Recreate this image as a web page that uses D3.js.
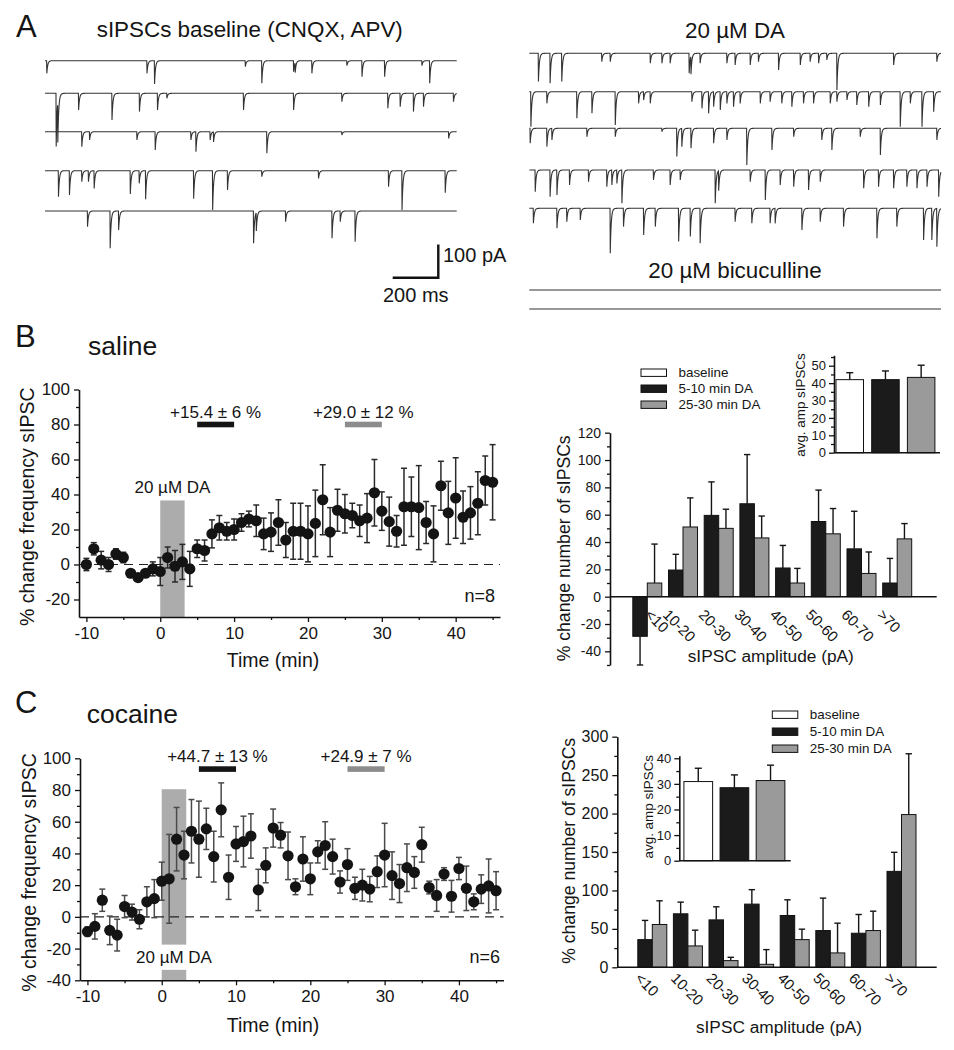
<!DOCTYPE html>
<html><head><meta charset="utf-8">
<script src="https://cdn.jsdelivr.net/npm/d3@7"></script>
<style>
body{margin:0;background:#fff}
text{font-family:"Liberation Sans",Arial,sans-serif;fill:#151515}
</style>
</head><body>
<svg id="c" width="954" height="1050" xmlns="http://www.w3.org/2000/svg"></svg>
<script>
// ---------------- DATA ----------------
// Panel A: sIPSC events [time (ms), amplitude (pA)] per sweep (1.8 s sweeps)
const baseTrace1 = [[7,38],[445,38],[478,70],[875,18],[947,68],[1086,33],[1093,30],[1166,38],[1319,15],[1385,48],[1484,48],[1647,15],[1681,68]];
const baseTrace2 = [[48,160],[55,120],[146,50],[292,80],[412,55],[491,50],[532,15],[867,50],[1086,50],[1297,25],[1498,45],[1552,40],[1610,55],[1654,40],[1785,25]];
const baseTrace3 = [[160,45],[194,25],[401,25],[481,55],[637,25],[659,60],[721,25],[736,30],[969,65],[1297,10],[1764,20]];
const baseTrace4 = [[58,78],[106,73],[160,33],[189,33],[214,53],[372,70],[411,38],[439,86],[649,84],[732,118],[797,58],[947,18],[1195,23],[1501,48],[1560,118],[1749,66]];
const baseTrace5 = [[185,47],[284,112],[321,57],[911,97],[923,55],[1051,32],[1254,82],[1290,32],[1355,92]];
const daTrace1 = [[39,85],[90,90],[141,85],[316,25],[353,25],[528,30],[579,30],[615,30],[698,60],[706,55],[746,30],[863,30],[899,35],[965,35],[1001,25],[1089,50],[1184,35],[1227,25],[1264,30],[1300,20],[1344,110],[1592,35],[1781,25]];
const daTrace2 = [[6,105],[76,35],[207,80],[273,65],[375,100],[477,35],[499,25],[528,35],[710,30],[754,50],[783,65],[805,45],[834,55],[863,35],[892,45],[921,35],[1009,35],[1052,30],[1103,35],[1147,45],[1198,35],[1242,35],[1315,35],[1344,30],[1388,25],[1431,40],[1483,45],[1534,40],[1621,105],[1665,35],[1716,105],[1767,60]];
const daTrace3 = [[3,45],[76,55],[98,35],[251,25],[375,25],[579,10],[644,85],[666,55],[706,60],[805,45],[863,35],[950,110],[1060,65],[1155,25],[1278,35],[1322,65],[1446,25],[1534,80],[1781,35]];
const daTrace4 = [[25,65],[90,80],[120,75],[175,45],[258,35],[338,50],[360,45],[382,40],[404,100],[542,30],[615,45],[659,30],[812,100],[827,60],[965,35],[1031,90],[1096,45],[1155,50],[1220,60],[1271,35],[1461,55],[1526,50],[1592,55],[1650,50],[1694,55],[1738,50],[1789,80]];
const daTrace5 = [[17,45],[120,60],[163,40],[222,35],[353,135],[411,55],[499,80],[550,55],[652,100],[703,85],[746,105],[899,40],[972,45],[1052,45],[1074,45],[1191,65],[1271,40],[1373,55],[1519,90],[1606,55],[1723,95],[1759,95],[1781,115]];
const bicTrace1 = [];
const bicTrace2 = [];

// Panels B/C left: time course (% change frequency sIPSC)
const timeMin = [-10,-9,-8,-7,-6,-5,-4,-3,-2,-1,0,1,2,3,4,5,6,7,8,9,10,11,12,13,14,15,16,17,18,19,20,21,22,23,24,25,26,27,28,29,30,31,32,33,34,35,36,37,38,39,40,41,42,43,44,45];
const salineFreq = [0,9,2.5,0,6,4,-5,-7.5,-5,-2.5,-4,4,-1,1.5,-2.5,9,8,17.5,21,19,20,24,26,25,17.5,18.5,24,14,19,19,17.5,23.5,37,18.5,31,29,28,25,26.5,41,30.5,24.5,19,33,33,32.5,24,17.5,45,29.5,38,27,29.5,35,48,47];
const salineErr  = [3.5,3.5,5,4,3,3,1.5,2,2,4,8,6,9,10,10,5,6,8,7,5,6,5,4.5,9,9,11,13,10,16,16,16,19,20,14,12,11,7,9,14,19,11,14,9,22,17,24,12,16,14,18,23,15,15,18,14,21.5];
const cocaineFreq = [-9.3,-6,10.5,-8.5,-11.5,6.5,3,-1.5,9.5,11.5,22.5,24,49,39,54,49,55.5,38,67.5,25,46,47.5,51,17,32.5,56,51.5,38.5,19,36.5,24,41,45,38,22,33,18,20,17.5,28.5,39,26,21,31,28,45.5,18.5,13.5,27,13,30.5,18,9.5,17.5,19.5,16.5];
const cocaineErr  = [3,8,7,9,10,7,5,6,9.5,12,12,28,20,15,20,24,13,16,17,14,11,16,14,13,11,12,8,15,5,14,10,7,15,11,7,10,7,10,8,10,20,15,12,15,10,11,4,10,4,10,7,14,5,9,17,12];
const daPeriod = [0, 3.3];
const measurePeriods = [[5,10],[25,30]];
const salinePeriodLabels = ["+15.4 \u00b1 6 %", "+29.0 \u00b1 12 %"];
const cocainePeriodLabels = ["+44.7 \u00b1 13 %", "+24.9 \u00b1 7 %"];

// Panels B/C right: amplitude distribution
const ampBins = ["<10","10-20","20-30","30-40","40-50","50-60","60-70",">70"];
const seriesNames = ["baseline","5-10 min DA","25-30 min DA"];
const salineEarly    = [-29,19.5,59.5,68,21,55,35,10];
const salineEarlyErr = [21,11.5,24.5,36,16.5,23,27.5,18];
const salineLate     = [10,51,50,43,10,46,17,42.3];
const salineLateErr  = [28.5,21.3,14,16,10.7,18.5,15.7,11.2];
const cocaineEarly    = [36,69.6,61.7,82.2,67.4,47.8,44.3,124.8];
const cocaineEarlyErr = [25,15.2,17,18.8,20.4,42.2,24.4,24.8];
const cocaineLate     = [55.7,27.8,8.7,3.9,36,18.7,47.8,198.7];
const cocaineLateErr  = [30.8,20.5,4.3,19.1,13.6,38.7,25.2,79.1];
// insets: average amplitude
const salineAvgAmp = [42,42,43.3];
const salineAvgErr = [4,5,7];
const cocaineAvgAmp = [30.9,28.5,31.3];
const cocaineAvgErr = [5.2,5,6];

// ---------------- DRAWING ----------------
const svg = d3.select("#c");
svg.append("rect").attr("width",954).attr("height",1050).attr("fill","#fff");
const seriesFill = ["#ffffff","#1b1b1b","#9a9a9a"];

function txt(x,y,s,size,anchor="start",g=svg){
  return g.append("text").attr("x",x).attr("y",y).attr("font-size",size)
    .attr("text-anchor",anchor).text(s);
}
function vtxt(x,y,s,size){
  return svg.append("text").attr("transform",`translate(${x},${y}) rotate(-90)`)
    .attr("font-size",size).attr("text-anchor","middle").text(s);
}
function styleAxis(g,fs){
  g.selectAll("path.domain").attr("stroke","#111").attr("stroke-width",1.6);
  g.selectAll(".tick line").attr("stroke","#111").attr("stroke-width",1.3);
  g.selectAll(".tick text").attr("font-size",fs).attr("fill","#151515")
    .attr("font-family","'Liberation Sans',Arial,sans-serif");
  g.attr("font-family",null);
}
function leftAxis(x,scale,majors,minors,fs,pad){
  const g = svg.append("g").attr("transform",`translate(${x},0)`)
    .call(d3.axisLeft(scale).tickValues(majors).tickSize(5).tickSizeOuter(0).tickPadding(pad).tickFormat(d=>String(d)));
  styleAxis(g,fs);
  const m = svg.append("g").attr("transform",`translate(${x},0)`)
    .call(d3.axisLeft(scale).tickValues(minors).tickSize(3).tickFormat(""));
  m.select("path.domain").remove();
  styleAxis(m,fs);
}
function bottomAxis(y,scale,majors,minors,fs,pad){
  const g = svg.append("g").attr("transform",`translate(0,${y})`)
    .call(d3.axisBottom(scale).tickValues(majors).tickSize(5).tickSizeOuter(0).tickPadding(pad).tickFormat(d=>String(d)));
  styleAxis(g,fs);
  const m = svg.append("g").attr("transform",`translate(0,${y})`)
    .call(d3.axisBottom(scale).tickValues(minors).tickSize(3).tickFormat(""));
  m.select("path.domain").remove();
  styleAxis(m,fs);
}

// ---- Panel A traces ----
function drawTrace(events, x0, yBase){
  const xs = d3.scaleLinear().domain([0,1800]).range([x0, x0+411.7]);
  const ys = d3.scaleLinear().domain([0,100]).range([yBase, yBase+33.3]);
  const tau = 4;
  const samples = d3.range(0,1800.01,0.5).map(t=>{
    let I = 0;
    for(const [t0,a] of events){
      const s = t - t0;
      if(s < 0) continue;
      I += a * (s < 1 ? s : Math.exp(-(s-1)/tau));
    }
    return [t,I];
  });
  svg.append("path").datum(samples)
    .attr("d", d3.line().x(d=>xs(d[0])).y(d=>ys(d[1])))
    .attr("fill","none").attr("stroke","#333").attr("stroke-width",1.1);
}
const leftBases = [60.7,93.3,131.7,170.7,211];
[baseTrace1,baseTrace2,baseTrace3,baseTrace4,baseTrace5].forEach((ev,i)=>drawTrace(ev,45,leftBases[i]));
const rightBases = [53.3,91.7,128.3,170,208.3];
[daTrace1,daTrace2,daTrace3,daTrace4,daTrace5].forEach((ev,i)=>drawTrace(ev,529.3,rightBases[i]));
drawTrace(bicTrace1,529.3,290);
drawTrace(bicTrace2,529.3,309);

txt(16,36.7,"A",31);
txt(96.7,36.7,"sIPSCs baseline (CNQX, APV)",22.4);
txt(685,37.7,"20 \u00b5M DA",22.4);
txt(648.3,277.7,"20 \u00b5M bicuculline",22.4);
// scale bar 200 ms / 100 pA
const sbx = d3.scaleLinear().domain([0,200]).range([392.7,438.3]);
const sby = d3.scaleLinear().domain([0,100]).range([277.7,244.4]);
svg.append("path").attr("d",`M${sbx(0)},${sby(0)}H${sbx(200)}V${sby(100)}`)
  .attr("fill","none").attr("stroke","#111").attr("stroke-width",2.4);
txt(443,261.7,"100 pA",20);
txt(383,301.7,"200 ms",20);

// ---- Time course panels ----
function timeCourse(cfg){
  const x = d3.scaleLinear().domain([-11,46]).range(cfg.xr);
  const y = d3.scaleLinear().domain(cfg.yd).range(cfg.yr);
  // DA shading
  cfg.shade.forEach(([a,b])=>{
    svg.append("rect").attr("x",x(daPeriod[0])).attr("width",x(daPeriod[1])-x(daPeriod[0]))
      .attr("y",y(b)).attr("height",y(a)-y(b)).attr("fill","#acacac");
  });
  txt((x(daPeriod[0])+x(daPeriod[1]))/2, cfg.daTextY, "20 \u00b5M DA", 17, "middle");
  // zero line
  svg.append("line").attr("x1",x(-11)).attr("x2",x(46)).attr("y1",y(0)).attr("y2",y(0))
    .attr("stroke","#222").attr("stroke-width",1.2).attr("stroke-dasharray","9,6");
  // period bars
  measurePeriods.forEach((p,i)=>{
    svg.append("rect").attr("x",x(p[0])).attr("width",x(p[1])-x(p[0]))
      .attr("y",y(cfg.barV)-2.8).attr("height",5.6).attr("fill",i===0?"#151515":"#8c8c8c");
    txt((x(p[0])+x(p[1]))/2, y(cfg.barV)-cfg.labOff, cfg.labels[i], 17, "middle");
  });
  // error bars
  const eg = svg.append("g").attr("stroke",cfg.errColor).attr("stroke-width",1.5);
  timeMin.forEach((t,i)=>{
    const v = cfg.vals[i], e = cfg.errs[i], cx = x(t);
    eg.append("line").attr("x1",cx).attr("x2",cx).attr("y1",y(v-e)).attr("y2",y(v+e));
    eg.append("line").attr("x1",cx-3).attr("x2",cx+3).attr("y1",y(v-e)).attr("y2",y(v-e));
    eg.append("line").attr("x1",cx-3).attr("x2",cx+3).attr("y1",y(v+e)).attr("y2",y(v+e));
  });
  svg.append("g").selectAll("circle").data(timeMin).join("circle")
    .attr("cx",d=>x(d)).attr("cy",(d,i)=>y(cfg.vals[i])).attr("r",5.6).attr("fill","#141414");
  // axes
  leftAxis(cfg.xr[0], y, cfg.yMaj, cfg.yMin, 17, 4);
  bottomAxis(cfg.yr[0], x, [-10,0,10,20,30,40], [-5,5,15,25,35,45], 17, 5);
  txt(cfg.nX, cfg.nY, cfg.nLabel, 18, "end");
  txt(273, cfg.timeY, "Time (min)", 19.5, "middle");
  vtxt(cfg.yLabX, cfg.yLabY, "% change frequency sIPSC", 19.5);
}
txt(15,347,"B",31);
txt(88,355,"saline",26.5);
timeCourse({xr:[79,500], yd:[-30,100], yr:[617,389.5], vals:salineFreq, errs:salineErr,
  shade:[[-30,36.6]], daTextY:492.7, barV:80, labOff:6.5, labels:salinePeriodLabels,
  yMaj:[-20,0,20,40,60,80,100], yMin:[-10,10,30,50,70,90], nX:495, nY:601.7, nLabel:"n=8",
  timeY:667, yLabX:34.2, yLabY:506.7, errColor:"#2a2a2a"});
txt(15,713,"C",31);
txt(86.7,723.3,"cocaine",26.5);
timeCourse({xr:[80,503.5], yd:[-40,100], yr:[980.3,758.3], vals:cocaineFreq, errs:cocaineErr,
  shade:[[-17.5,80.5],[-40,-33.4]], daTextY:963.3, barV:93.2, labOff:7.5, labels:cocainePeriodLabels,
  yMaj:[-40,-20,0,20,40,60,80,100], yMin:[-30,-10,10,30,50,70,90], nX:500, nY:962.7, nLabel:"n=6",
  timeY:1032, yLabX:35.9, yLabY:872.5, errColor:"#4a4a4a"});

// ---- Amplitude histograms ----
function errBar(g,cx,v0,v1,y,hw){
  g.append("line").attr("x1",cx).attr("x2",cx).attr("y1",y(v0)).attr("y2",y(v1));
  g.append("line").attr("x1",cx-hw).attr("x2",cx+hw).attr("y1",y(v1)).attr("y2",y(v1));
}
function ampChart(cfg){
  const y = d3.scaleLinear().domain(cfg.yd).range(cfg.yr);
  const xb = d3.scaleBand().domain(ampBins).range(cfg.br);
  const bw = 14.5;
  const eg = svg.append("g").attr("stroke","#151515").attr("stroke-width",1.4);
  ampBins.forEach((c,i)=>{
    const cx = xb(c)+xb.bandwidth()/2;
    [[cfg.early,cfg.earlyErr,1,cx-bw],[cfg.late,cfg.lateErr,2,cx]].forEach(([vals,errs,s,x0])=>{
      const v = vals[i], e = errs[i];
      svg.append("rect").attr("x",x0).attr("width",bw)
        .attr("y",y(Math.max(0,v))).attr("height",Math.abs(y(v)-y(0)))
        .attr("fill",seriesFill[s]).attr("stroke","#111").attr("stroke-width",1);
      errBar(eg, x0+bw/2, v, v<0 ? v-e : v+e, y, 3.2);
    });
  });
  eg.raise();
  // x axis line at zero
  svg.append("line").attr("x1",cfg.xAxis[0]).attr("x2",cfg.xAxis[1]).attr("y1",y(0)).attr("y2",y(0))
    .attr("stroke","#111").attr("stroke-width",1.6);
  leftAxis(cfg.xAxis[0], y, cfg.yMaj, cfg.yMin, cfg.tickFs, 4);
  ampBins.forEach((c,i)=>{
    const cx = xb(c)+xb.bandwidth()/2;
    // a label whose early bar hangs below zero starts just right of that bar
    const dx = cfg.early[i] < 0 ? -3 : cfg.labDx;
    svg.append("text").attr("transform",`translate(${cx+dx},${y(0)+cfg.labDy}) rotate(45)`)
      .attr("font-size",15).text(c);
  });
  txt(cfg.xLab[0], cfg.xLab[1], "sIPSC amplitude (pA)", 17.3, "middle");
  vtxt(cfg.yLab[0], cfg.yLab[1], "% change number of sIPSCs", 17.6);
  // legend
  seriesNames.forEach((n,i)=>{
    const ly = cfg.leg[1] + i*cfg.leg[2];
    svg.append("rect").attr("x",cfg.leg[0]).attr("y",ly-3.7).attr("width",25.5).attr("height",7.4)
      .attr("fill",seriesFill[i]).attr("stroke","#111").attr("stroke-width",1);
    txt(cfg.leg[0]+37.5, ly+4.7, n, 13.4);
  });
  // inset
  const iy = d3.scaleLinear().domain(cfg.iyd).range(cfg.iyr);
  const ix = d3.scaleBand().domain(seriesNames).range(cfg.ibr);
  const ieg = svg.append("g").attr("stroke","#151515").attr("stroke-width",1.4);
  seriesNames.forEach((n,i)=>{
    const w = cfg.ibw, cx = ix(n)+ix.bandwidth()/2;
    svg.append("rect").attr("x",cx-w/2).attr("width",w).attr("y",iy(cfg.iv[i]))
      .attr("height",iy(0)-iy(cfg.iv[i])).attr("fill",seriesFill[i]).attr("stroke","#111").attr("stroke-width",1);
    errBar(ieg, cx, cfg.iv[i], cfg.iv[i]+cfg.ie[i], iy, 3.5);
  });
  ieg.raise();
  svg.append("line").attr("x1",cfg.ixAxis[0]).attr("x2",cfg.ixAxis[1]).attr("y1",iy(0)).attr("y2",iy(0))
    .attr("stroke","#111").attr("stroke-width",1.5);
  leftAxis(cfg.ixAxis[0], iy, cfg.iMaj, cfg.iMin, 13, 3);
  vtxt(cfg.iLab[0], cfg.iLab[1], "avg. amp sIPSCs", 13.4);
}
ampChart({yd:[-50,120], yr:[665,432.7], br:[629.45,915.05], early:salineEarly, earlyErr:salineEarlyErr,
  late:salineLate, lateErr:salineLateErr, xAxis:[610,936.7], yMaj:[-40,-20,0,20,40,60,80,100,120],
  yMin:[-50,-30,-10,10,30,50,70,90,110], tickFs:14, labDx:-21, labDy:19, xLab:[770.8,662], yLab:[569.5,548.3],
  leg:[641,372.7,16],
  iyd:[0,56], iyr:[452.7,355.3], ibr:[831.9,939], ibw:27.5, iv:salineAvgAmp, ie:salineAvgErr,
  ixAxis:[834,940], iMaj:[0,10,20,30,40,50], iMin:[5,15,25,35,45,55], iLab:[805,405]});
ampChart({yd:[0,300], yr:[967.3,736.7], br:[634.5,919.3], early:cocaineEarly, earlyErr:cocaineEarlyErr,
  late:cocaineLate, lateErr:cocaineLateErr, xAxis:[617.3,936.7], yMaj:[0,50,100,150,200,250,300],
  yMin:[25,75,125,175,225,275], tickFs:16, labDx:-18, labDy:12, xLab:[779,1033], yLab:[574.5,850.8],
  leg:[772.3,714.7,17],
  iyd:[0,41], iyr:[860.7,755.7], ibr:[680.2,788.6], ibw:28.7, iv:cocaineAvgAmp, ie:cocaineAvgErr,
  ixAxis:[679.3,790.7], iMaj:[0,10,20,30,40], iMin:[5,15,25,35], iLab:[653,806.7]});
</script>
</body></html>
